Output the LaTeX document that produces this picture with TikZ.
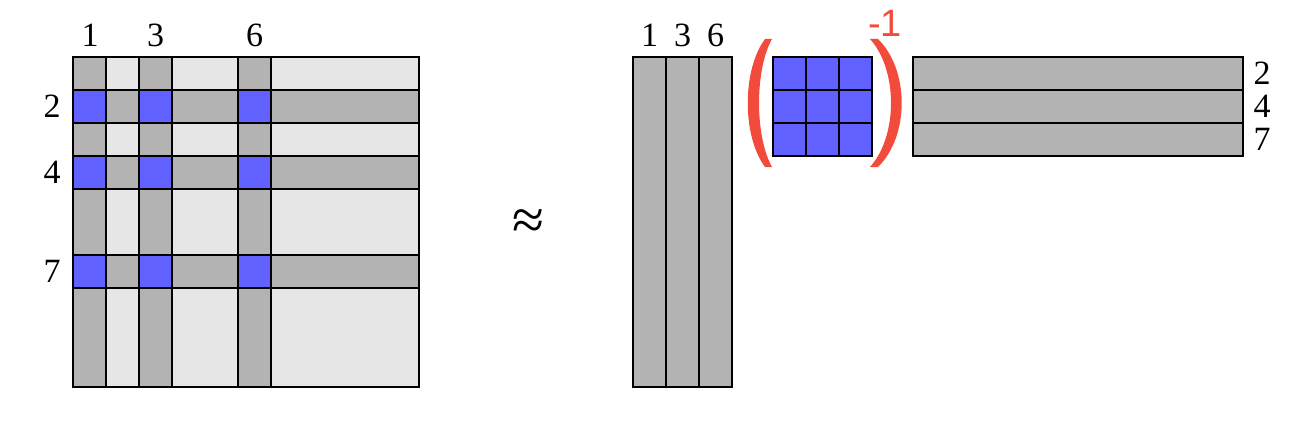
\documentclass[tikz,border=0pt]{standalone}
\usepackage{fontspec}
\setmainfont{Liberation Serif}
\newfontfamily\labsans{Liberation Sans}
\definecolor{lgray}{RGB}{230,230,230}
\definecolor{mgray}{RGB}{179,179,179}
\definecolor{cblue}{RGB}{97,97,255}
\definecolor{pred}{RGB}{242,75,60}
\begin{document}
\begin{tikzpicture}[x=1pt,y=-1pt,
  bg/.style={fill=lgray,draw=black,line width=1.1pt},
  band/.style={fill=mgray,draw=black,line width=1.1pt},
  cell/.style={fill=cblue,draw=black,line width=1.1pt},
  lab/.style={font=\fontsize{34}{34}\selectfont,inner sep=0pt},
  paren/.style={fill=pred,draw=none}]
\useasboundingbox[fill=white] (0,0) rectangle (1300,425);
% left matrix
\draw[bg] (73,57) rectangle (419,387);
\foreach \a in {73,139,238}{
  \draw[band] (\a,57) rectangle ({\a+33},387);}
\foreach \b in {90,156,255}{
  \draw[band] (73,\b) rectangle (419,{\b+33});}
\foreach \a in {73,139,238}{
  \foreach \b in {90,156,255}{
    \draw[cell] (\a,\b) rectangle ({\a+33},{\b+33});}}
\node[lab] (c1) at (90,35) {1};
\node[lab] (c3) at (155.5,35) {3};
\node[lab] (c6) at (254.5,35) {6};
\node[lab] (r2) at (52,106.5) {2};
\node[lab] (r4) at (52,172.5) {4};
\node[lab] (r7) at (52,271.5) {7};
% approx
\node[inner sep=0pt,font=\fontsize{58}{58}\selectfont] (approx) at (528,225) {≈};
% tall matrix
\foreach \a in {633,666,699}{
  \draw[band] (\a,57) rectangle ({\a+33},387);}
\node[lab] (d1) at (649.5,35) {1};
\node[lab] (d3) at (682.5,35) {3};
\node[lab] (d6) at (715.5,35) {6};
% blue block
\foreach \a in {773,806,839}{
  \foreach \b in {57,90,123}{
    \draw[cell] (\a,\b) rectangle ({\a+33},{\b+33});}}
% parentheses
\fill[paren] (765,39) .. controls (742,70) and (742,136) .. (765,167)
  -- (772,167) .. controls (754.7,136) and (754.7,70) .. (772,39) -- cycle;
\fill[paren] (878,39) .. controls (909.6,70) and (909.6,136) .. (878,167)
  -- (870,167) .. controls (898,136) and (898,70) .. (870,39) -- cycle;
\node[inner sep=0pt,text=pred,font=\labsans\fontsize{38}{38}\selectfont] (inv) at (885,23) {-1};
% wide matrix
\foreach \b in {57,90,123}{
  \draw[band] (913,\b) rectangle (1243,{\b+33});}
\node[lab] (e2) at (1262,73.5) {2};
\node[lab] (e4) at (1262,106.5) {4};
\node[lab] (e7) at (1262,139.5) {7};
\end{tikzpicture}
\end{document}
